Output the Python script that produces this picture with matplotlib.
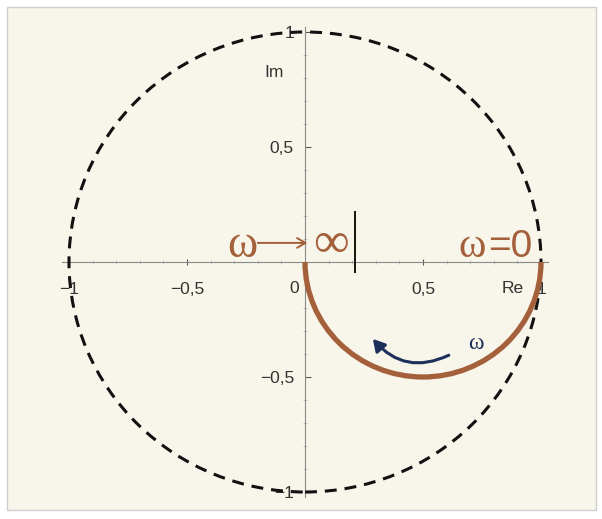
import matplotlib
matplotlib.use("Agg")
import matplotlib.pyplot as plt
import numpy as np
from matplotlib.patches import Ellipse, Arc, Rectangle, FancyArrowPatch

# Nyquist locus of a first-order lag: semicircle centre (0.5, 0), radius 0.5
locus_center = (0.5, 0.0)
locus_radius = 0.5
unit_radius = 1.0

x_ticks = [-1.0, -0.5, 0.5, 1.0]
x_tick_labels = ["\u22121", "\u22120,5", "0,5", "1"]
y_ticks = [-1.0, -0.5, 0.5, 1.0]
y_tick_labels = ["\u22121", "\u22120,5", "0,5", "1"]
minor_ticks = [round(v, 1) for v in np.arange(-1.0, 1.01, 0.1)]

marker_x = 0.21           # short vertical marker on the real axis
marker_y = (-0.043, 0.217)

BROWN = "#a4603a"
NAVY = "#1f2f5c"
CREAM = "#f8f5ea"

W, H = 602, 519
fig = plt.figure(figsize=(W / 100, H / 100), dpi=100, facecolor="white")
ax = fig.add_axes([0, 0, 1, 1])
ax.set_facecolor("none")
ax.set_zorder(2)

# pixel mapping: origin at (305, 262), 236 px per unit in x, 230 px per unit in y
ox, oy, sx, sy = 305, 262, 236, 230
ax.set_xlim(-ox / sx, (W - ox) / sx)
ax.set_ylim(-(H - oy) / sy, oy / sy)

# cream panel with thin grey frame
fig.patches.append(Rectangle((7 / W, 1 - 510 / H), (596 - 7) / W, (510 - 7) / H,
                             transform=fig.transFigure, facecolor=CREAM,
                             edgecolor="#cfcfcf", linewidth=1.0, zorder=-1))

# axes through the origin
for s in ("top", "right"):
    ax.spines[s].set_visible(False)
ax.spines["left"].set_position(("data", 0))
ax.spines["bottom"].set_position(("data", 0))
ax.spines["bottom"].set_bounds(-1.03, 1.03)
ax.spines["left"].set_bounds(-1.02, 1.02)
for s in ("left", "bottom"):
    ax.spines[s].set_color("#8a8a8a")
    ax.spines[s].set_linewidth(0.8)

font = ["Liberation Sans", "DejaVu Sans"]
serif = ["Liberation Serif", "DejaVu Serif"]
ax.set_xticks(x_ticks, x_tick_labels, fontfamily=font, fontsize=12.5, color="#333333")
ax.set_yticks(y_ticks, y_tick_labels, fontfamily=font, fontsize=12.5, color="#333333")
ax.set_xticks(minor_ticks, minor=True)
ax.set_yticks(minor_ticks, minor=True)
ax.tick_params(axis="x", which="major", direction="inout", length=5, width=0.8,
               color="#555555", pad=12)
ax.tick_params(axis="y", which="major", direction="in", length=4, width=0.8,
               color="#555555", pad=8)
ax.tick_params(which="minor", direction="inout", length=3, width=0.6, color="#bbbbbb")

ax.text(-0.045, -0.115, "0", fontfamily=font, fontsize=12.5, color="#333333",
        ha="center", va="center")
ax.text(0.88, -0.115, "Re", fontfamily=font, fontsize=12.5, color="#333333",
        ha="center", va="center")
ax.text(-0.13, 0.825, "Im", fontfamily=font, fontsize=12.5, color="#333333",
        ha="center", va="center")

# dashed unit circle
ax.add_patch(Ellipse((0, 0), 2 * unit_radius, 2 * unit_radius, fill=False,
                     edgecolor="#111111", linewidth=2.2, linestyle=(0, (3.9, 2.6)),
                     zorder=3))

# frequency locus
ax.add_patch(Arc(locus_center, 2 * locus_radius, 2 * locus_radius, theta1=180,
                 theta2=360, edgecolor=BROWN, linewidth=3.8, zorder=4))

# short marker line
ax.plot([marker_x, marker_x], marker_y, color="#111111", linewidth=1.4, zorder=4)

# direction of increasing omega
ax.add_patch(FancyArrowPatch((0.62, -0.40), (0.28, -0.325),
                             connectionstyle="arc3,rad=-0.4",
                             arrowstyle="-|>,head_length=7,head_width=4",
                             color=NAVY, linewidth=2.2, zorder=5))
ax.text(0.725, -0.355, "\u03c9", fontfamily=serif,
        fontsize=17, color=NAVY, ha="center", va="center")

# end-point labels: omega -> infinity at the origin, omega = 0 at (1, 0)
base = 0.022
ax.text(-0.265, base, "\u03c9", fontfamily=serif, fontsize=33, color=BROWN,
        ha="center", va="baseline", zorder=6)
ax.annotate("", xy=(0.01, 0.083), xytext=(-0.2, 0.083),
            arrowprops=dict(arrowstyle="->,head_length=0.6,head_width=0.35",
                            color=BROWN, lw=1.4, shrinkA=0, shrinkB=0), zorder=6)
ax.text(0.112, base, "\u221e", fontfamily=serif, fontsize=36, color=BROWN,
        ha="center", va="baseline", zorder=6)
ax.text(0.708, base, "\u03c9", fontfamily=serif, fontsize=30, color=BROWN,
        ha="center", va="baseline", zorder=6)
ax.text(0.778, base, "=0", fontfamily=font, fontsize=28, color=BROWN,
        ha="left", va="baseline", zorder=6)

fig.savefig("out.png", dpi=100, facecolor="white")
